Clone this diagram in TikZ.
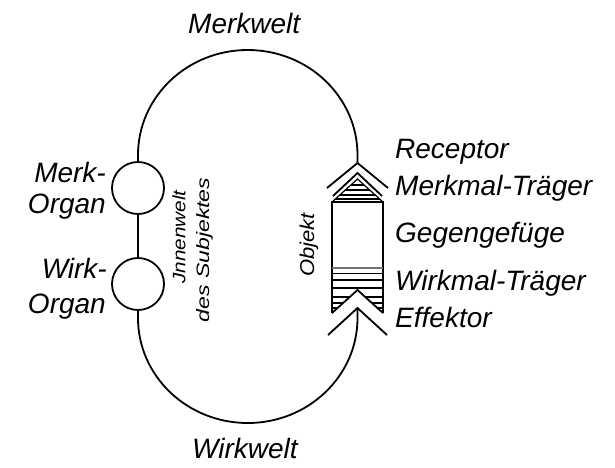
\documentclass[tikz,border=0pt]{standalone}
\usepackage{fontspec}
\setmainfont{Liberation Sans}
\tikzset{
  lbl/.style={font=\itshape\fontsize{28}{28}\selectfont, inner sep=0pt},
  rotlbl/.style={rotate=90, inner sep=0pt},
  loopline/.style={line width=1.8pt},
  organ/.style={circle, draw, line width=1.8pt, fill=white, minimum size=52pt, inner sep=0pt},
  obj/.style={line width=1.8pt, line join=miter},
  hatch/.style={line width=1.2pt},
}
\begin{document}
\begin{tikzpicture}[x=1pt,y=-1pt]
\useasboundingbox (0,0) rectangle (615,467);
% loop anchors
\coordinate (tl) at (138,155);
\coordinate (bl) at (138,318);
\coordinate (recA) at (357.5,163);
\coordinate (effA) at (357.5,308);
% organs
\node[organ] (mo) at (138,188) {};
\node[organ] (wo) at (138,284) {};
% Merkwelt / Wirkwelt loop
\draw[loopline] (mo.north) -- (tl) arc[start angle=180,end angle=360,x radius=109.75,y radius=105] -- (recA);
\draw[loopline] (wo.south) -- (bl) arc[start angle=180,end angle=0,x radius=109.75,y radius=105] -- (effA);
\draw[loopline] (mo.south) -- (wo.north);
% receptor chevron
\draw[obj] (327,188) -- (recA) -- (388,188);
\draw[obj] (333,196) -- (357.5,173) -- (382,196);
% object
\draw[obj] (332,313) -- (332,202) -- (383,202) -- (383,313);
\draw[hatch] (332,202) -- (357.5,179) -- (383,202);
\begin{scope}
  \clip (332,202) -- (357.5,179) -- (383,202) -- cycle;
  \foreach \yy in {185,190,195,199} \draw[hatch] (330,\yy) -- (385,\yy);
\end{scope}
\draw[line width=2.5pt, black!55] (332,268) -- (383,268);
\draw[line width=1pt] (332,273) -- (383,273);
\draw[line width=1.4pt] (332,280) -- (383,280);
\draw[line width=2pt] (332,288) -- (383,288);
\draw[obj] (332,313) -- (357.5,290) -- (383,313);
\begin{scope}
  \clip (332,290) -- (357.5,290) -- (332,313) -- cycle;
  \foreach \yy in {297,303,308} \draw[hatch] (330,\yy) -- (360,\yy);
\end{scope}
\begin{scope}
  \clip (383,290) -- (357.5,290) -- (383,313) -- cycle;
  \foreach \yy in {297,303,308} \draw[hatch] (355,\yy) -- (385,\yy);
\end{scope}
% effector chevron
\draw[obj] (328,335) -- (effA) -- (387,335);
% labels
\node[lbl, anchor=base west] (mw) at (188,33) {Merkwelt};
\node[lbl, anchor=base west] (ww) at (192,458) {Wirkwelt};
\node[lbl, anchor=base west] (rec) at (395,158) {Receptor};
\node[lbl, anchor=base west] (mt) at (395,195) {Merkmal-Träger};
\node[lbl, anchor=base west] (gg) at (395,242) {Gegengefüge};
\node[lbl, anchor=base west] (wt) at (395,290) {Wirkmal-Träger};
\node[lbl, anchor=base west] (eff) at (395,327) {Effektor};
\node[lbl, anchor=base east] (mo1) at (106,182) {Merk-};
\node[lbl, anchor=base east] (mo2) at (106,213) {Organ};
\node[lbl, anchor=base east] (wo1) at (107,278) {Wirk-};
\node[lbl, anchor=base east] (wo2) at (106,313) {Organ};
\node[rotlbl, font=\itshape\fontsize{18}{18}\selectfont] (inw) at (179,237) {\scalebox{1.15}[1]{Jnnenwelt}};
\node[rotlbl, font=\itshape\fontsize{18}{18}\selectfont] (sub) at (204.5,250) {\scalebox{1.28}[1]{des Subjektes}};
\node[rotlbl, font=\itshape\fontsize{20}{20}\selectfont] (objk) at (309,245) {\scalebox{1.1}[1]{Objekt}};
\end{tikzpicture}
\end{document}
